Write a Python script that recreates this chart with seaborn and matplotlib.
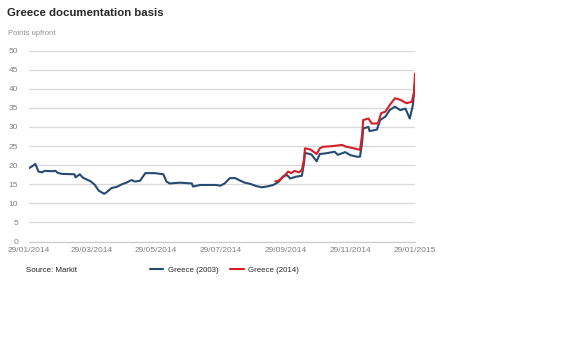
import matplotlib
matplotlib.use('Agg')
import matplotlib.pyplot as plt
import matplotlib.dates as mdates
import pandas as pd
import seaborn as sns

# Greece (2003) documentation clause
dates_2003 = ['2014-01-29', '2014-02-01', '2014-02-04', '2014-02-07', '2014-02-10', '2014-02-13',
              '2014-02-20', '2014-02-23', '2014-02-25', '2014-03-01', '2014-03-13', '2014-03-14',
              '2014-03-18', '2014-03-21', '2014-03-28', '2014-04-01', '2014-04-05', '2014-04-10',
              '2014-04-12', '2014-04-17', '2014-04-22', '2014-04-27', '2014-05-01', '2014-05-06',
              '2014-05-09', '2014-05-14', '2014-05-19', '2014-05-28', '2014-06-05', '2014-06-08',
              '2014-06-11', '2014-06-21', '2014-07-02', '2014-07-03', '2014-07-10', '2014-07-25',
              '2014-07-29', '2014-08-02', '2014-08-07', '2014-08-12', '2014-08-17', '2014-08-21',
              '2014-08-26', '2014-09-01', '2014-09-06', '2014-09-11', '2014-09-17', '2014-09-22',
              '2014-09-26', '2014-09-30', '2014-10-03', '2014-10-09', '2014-10-14', '2014-10-16',
              '2014-10-17', '2014-10-23', '2014-10-28', '2014-10-31', '2014-11-06', '2014-11-14',
              '2014-11-17', '2014-11-24', '2014-11-29', '2014-12-05', '2014-12-08', '2014-12-10',
              '2014-12-11', '2014-12-16', '2014-12-17', '2014-12-24', '2014-12-27', '2015-01-01',
              '2015-01-05', '2015-01-10', '2015-01-15', '2015-01-20', '2015-01-24', '2015-01-27',
              '2015-01-29']
values_2003 = [19.2, 19.7, 20.3, 18.3, 18.1, 18.5,
               18.4, 18.5, 18.0, 17.7, 17.6, 16.8,
               17.6, 16.7, 15.8, 14.9, 13.3, 12.5,
               12.8, 14.0, 14.3, 15.0, 15.4, 16.1,
               15.7, 15.9, 17.9, 17.9, 17.6, 15.7,
               15.2, 15.4, 15.2, 14.4, 14.8, 14.8,
               14.6, 15.2, 16.6, 16.6, 15.9, 15.4,
               15.1, 14.5, 14.2, 14.4, 14.8, 15.6,
               17.0, 17.4, 16.5, 17.0, 17.2, 20.5,
               23.2, 22.8, 21.0, 22.9, 23.1, 23.5,
               22.7, 23.4, 22.6, 22.2, 22.2, 26.0,
               29.6, 30.0, 28.9, 29.3, 31.8, 32.7,
               34.4, 35.3, 34.4, 34.8, 32.2, 35.7,
               41.5]

# Greece (2014) documentation clause
dates_2014 = ['2014-09-19', '2014-09-21', '2014-09-24', '2014-09-28', '2014-10-01', '2014-10-04',
              '2014-10-07', '2014-10-11', '2014-10-14', '2014-10-16', '2014-10-17', '2014-10-22',
              '2014-10-28', '2014-10-31', '2014-11-03', '2014-11-09', '2014-11-16', '2014-11-21',
              '2014-11-25', '2014-11-29', '2014-12-08', '2014-12-10', '2014-12-11', '2014-12-16',
              '2014-12-19', '2014-12-25', '2014-12-28', '2015-01-01', '2015-01-05', '2015-01-10',
              '2015-01-15', '2015-01-21', '2015-01-26', '2015-01-28', '2015-01-29']
values_2014 = [15.8, 15.8, 16.3, 17.4, 18.3, 17.9,
               18.5, 18.1, 18.7, 21.5, 24.4, 24.1,
               22.9, 24.4, 24.8, 24.9, 25.1, 25.3,
               24.8, 24.6, 24.0, 28.0, 31.8, 32.2,
               30.9, 30.9, 33.6, 34.0, 35.7, 37.5,
               37.1, 36.2, 36.6, 39.0, 44.0]

series_names = ['Greece (2003)', 'Greece (2014)']
series_colors = ['#264b73', '#d41f26']
tick_dates = ['2014-01-29', '2014-03-29', '2014-05-29', '2014-07-29',
              '2014-09-29', '2014-11-29', '2015-01-29']
y_ticks = [0, 5, 10, 15, 20, 25, 30, 35, 40, 45, 50]

df = pd.concat([
    pd.DataFrame({'date': pd.to_datetime(dates_2003), 'value': values_2003, 'series': series_names[0]}),
    pd.DataFrame({'date': pd.to_datetime(dates_2014), 'value': values_2014, 'series': series_names[1]}),
])

sns.set_style('white')
plt.rcParams['font.family'] = ['Liberation Sans', 'DejaVu Sans']

fig = plt.figure(figsize=(5.86, 3.55), dpi=100)
ax = fig.add_axes([0.0495, 0.3197, 0.6587, 0.538])

sns.lineplot(data=df, x='date', y='value', hue='series', palette=series_colors,
             linewidth=1.5, ax=ax)

ax.set_ylim(0, 50)
ax.set_yticks(y_ticks)
ax.set_xlim(pd.Timestamp(tick_dates[0]), pd.Timestamp(tick_dates[-1]))
ax.set_xticks(pd.to_datetime(tick_dates))
ax.xaxis.set_major_formatter(mdates.DateFormatter('%d/%m/%Y'))
ax.grid(axis='y', color='#d9d9d9', linewidth=0.9)
ax.set_axisbelow(True)
for s in ['top', 'right', 'left']:
    ax.spines[s].set_visible(False)
ax.spines['bottom'].set_color('#c8c8c8')
ax.tick_params(axis='y', length=0, pad=8, labelsize=6, labelcolor='#808080')
ax.tick_params(axis='x', direction='in', length=3, color='#c8c8c8', pad=4,
               labelsize=6, labelcolor='#808080')
ax.set_xlabel('')
ax.set_ylabel('')

fig.text(0.012, 0.963, 'Greece documentation basis', fontsize=8.2, fontweight='heavy',
         va='center', ha='left')
fig.text(0.014, 0.905, 'Points upfront', fontsize=5.5, color='#909090', va='center', ha='left')
fig.text(0.044, 0.237, 'Source: Markit', fontsize=5.7, color='#222222', va='center', ha='left')

sns.move_legend(ax, 'center left', bbox_to_anchor=(0.243, 0.239), bbox_transform=fig.transFigure,
                ncol=2, frameon=False, title=None, fontsize=5.7, handlelength=1.7,
                columnspacing=1.5, handletextpad=0.6)

fig.savefig('out.png', dpi=100)
